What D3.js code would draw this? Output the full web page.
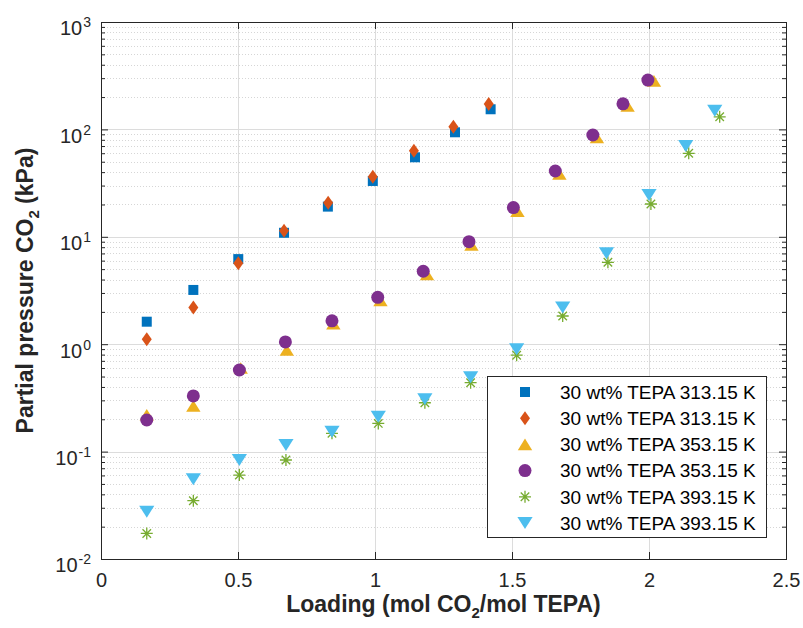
<!DOCTYPE html>
<meta charset="utf-8" />
<title>CO2 partial pressure vs loading</title>
<style>
  body { margin: 0; background: #fff; }
  svg { display: block; font-family: "Liberation Sans", Arial, sans-serif; }
  .grid-major { stroke: #dcdcdc; stroke-width: 1px; }
  .grid-minor { stroke: #d6d6d6; stroke-width: 1px; stroke-dasharray: 1 2; }
  .axis-line { stroke: #262626; stroke-width: 1px; fill: none; }
  .tick-label { fill: #262626; font-size: 20px; }
  .axis-title { fill: #262626; font-size: 23px; font-weight: bold; }
  .legend-text { fill: #000; font-size: 19px; }
</style>
<svg width="803" height="628"></svg>
<script src="https://d3js.org/d3.v7.min.js"></script>
<script>
const width = 803, height = 628;
const margin = { left: 101, right: 17, top: 22, bottom: 69 };

// data
const load313sq = [0.167, 0.337, 0.501, 0.668, 0.828, 0.992, 1.146, 1.292, 1.422];
const p313sq = [1.62, 3.2, 6.2, 10.9, 19.1, 33.1, 55, 94, 154];
const load313di = [0.167, 0.337, 0.501, 0.668, 0.829, 0.992, 1.142, 1.286, 1.415];
const p313di = [1.11, 2.2, 5.67, 11.4, 20.8, 36.3, 63.3, 106, 172];
const load353tr = [0.167, 0.337, 0.51, 0.678, 0.848, 1.02, 1.19, 1.352, 1.52, 1.673, 1.81, 1.922, 2.018];
const p353tr = [0.22, 0.266, 0.6, 0.883, 1.55, 2.55, 4.45, 8.4, 17.3, 38.5, 84, 165, 283];
const load353ci = [0.167, 0.337, 0.505, 0.673, 0.843, 1.01, 1.176, 1.343, 1.505, 1.658, 1.795, 1.905, 1.996];
const p353ci = [0.197, 0.33, 0.575, 1.05, 1.65, 2.73, 4.78, 9.0, 18.7, 41, 88.7, 173, 288];
const load393as = [0.167, 0.337, 0.505, 0.675, 0.843, 1.012, 1.182, 1.349, 1.517, 1.685, 1.85, 2.007, 2.145, 2.258];
const p393as = [0.0173, 0.0349, 0.0605, 0.0835, 0.148, 0.183, 0.285, 0.438, 0.79, 1.83, 5.79, 20.2, 59.9, 131];
const load393tv = [0.167, 0.337, 0.505, 0.675, 0.843, 1.012, 1.182, 1.349, 1.517, 1.685, 1.845, 2.0, 2.134, 2.24];
const p393tv = [0.0276, 0.0552, 0.0835, 0.115, 0.153, 0.211, 0.307, 0.492, 0.896, 2.2, 7.02, 24.5, 70, 149];

const seriesNames = [
  "30 wt% TEPA 313.15 K", "30 wt% TEPA 313.15 K",
  "30 wt% TEPA 353.15 K", "30 wt% TEPA 353.15 K",
  "30 wt% TEPA 393.15 K", "30 wt% TEPA 393.15 K"
];
const seriesColors = ["#0072BD", "#D95319", "#EDB120", "#7E2F8E", "#77AC30", "#4DBEEE"];
const seriesMarkers = ["square", "diamond", "triangle", "circle", "asterisk", "triangledown"];
const xTicks = [0, 0.5, 1, 1.5, 2, 2.5];
const yTicks = [1e-2, 1e-1, 1, 1e1, 1e2, 1e3];

const series = [
  [load313sq, p313sq], [load313di, p313di], [load353tr, p353tr],
  [load353ci, p353ci], [load393as, p393as], [load393tv, p393tv]
].map((s, i) => ({
  name: seriesNames[i], color: seriesColors[i], marker: seriesMarkers[i],
  points: s[0].map((x, j) => ({ x: x, y: s[1][j] }))
}));

const svg = d3.select("svg");
const x = d3.scaleLinear().domain([0, 2.5]).range([margin.left, width - margin.right]);
const y = d3.scaleLog().domain([1e-2, 1e3]).range([height - margin.bottom, margin.top]);
const x0 = x.range()[0], x1 = x.range()[1], y0 = y.range()[0], y1 = y.range()[1];

// grid
const minorY = [];
for (let e = -2; e < 3; e++) for (let k = 2; k <= 9; k++) minorY.push(k * Math.pow(10, e));

svg.append("g").selectAll("line").data(minorY).enter().append("line")
  .attr("class", "grid-minor")
  .attr("x1", x0).attr("x2", x1)
  .attr("y1", d => Math.round(y(d)) + 0.5).attr("y2", d => Math.round(y(d)) + 0.5);
svg.append("g").selectAll("line").data(yTicks.slice(1, -1)).enter().append("line")
  .attr("class", "grid-major")
  .attr("x1", x0).attr("x2", x1)
  .attr("y1", d => Math.round(y(d)) + 0.5).attr("y2", d => Math.round(y(d)) + 0.5);
svg.append("g").selectAll("line").data(xTicks.slice(1, -1)).enter().append("line")
  .attr("class", "grid-major")
  .attr("y1", y0).attr("y2", y1)
  .attr("x1", d => Math.round(x(d)) + 0.5).attr("x2", d => Math.round(x(d)) + 0.5);

// axes with inward ticks
const xAxisB = d3.axisBottom(x).tickValues(xTicks).tickSizeInner(-7).tickSizeOuter(0).tickPadding(14)
  .tickFormat(d3.format("~g"));
const gxb = svg.append("g").attr("transform", `translate(0,${y0})`).call(xAxisB);
svg.append("g").attr("transform", `translate(0,${y1})`)
  .call(d3.axisTop(x).tickValues(xTicks).tickSizeInner(-7).tickSizeOuter(0).tickFormat(""));

const yAxisL = d3.axisLeft(y).tickValues(yTicks).tickSizeInner(-7).tickSizeOuter(0).tickPadding(10)
  .tickFormat(d => "10");
const gyl = svg.append("g").attr("transform", `translate(${x0},0)`).call(yAxisL);
svg.append("g").attr("transform", `translate(${x1},0)`)
  .call(d3.axisRight(y).tickValues(yTicks).tickSizeInner(-7).tickSizeOuter(0).tickFormat(""));
// minor ticks
svg.append("g").attr("transform", `translate(${x0},0)`)
  .call(d3.axisLeft(y).tickValues(minorY).tickSizeInner(-4).tickSizeOuter(0).tickFormat(""));
svg.append("g").attr("transform", `translate(${x1},0)`)
  .call(d3.axisRight(y).tickValues(minorY).tickSizeInner(-4).tickSizeOuter(0).tickFormat(""));

svg.selectAll(".domain").remove();
svg.selectAll(".tick line").attr("stroke", "#262626");
svg.selectAll(".tick text").attr("class", "tick-label").attr("font-family", null).attr("font-size", null);

gxb.selectAll(".tick text").attr("dy", "0.71em");
gyl.selectAll(".tick text").attr("dy", "0.64em")
  .append("tspan").attr("dy", "-8").attr("dx", "1").attr("font-size", "14px")
  .text(d => Math.round(Math.log10(d)));

svg.append("rect").attr("class", "axis-line")
  .attr("x", x0 + 0.5).attr("y", y1 + 0.5)
  .attr("width", x1 - x0).attr("height", y0 - y1);

// markers
function markerPath(type, s) {
  const p = d3.path();
  if (type === "square") { p.rect(-s / 2, -s / 2, s, s); }
  else if (type === "diamond") {
    const w = s * 0.5, h = s * 0.7;
    p.moveTo(0, -h); p.lineTo(w, 0); p.lineTo(0, h); p.lineTo(-w, 0); p.closePath();
  } else if (type === "triangle") {
    const w = s * 0.72, h = s * 0.58;
    p.moveTo(0, -h); p.lineTo(w, h); p.lineTo(-w, h); p.closePath();
  } else if (type === "triangledown") {
    const w = s * 0.76, h = s * 0.6;
    p.moveTo(-w, -h); p.lineTo(w, -h); p.lineTo(0, h); p.closePath();
  } else if (type === "circle") {
    p.arc(0, 0, s * 0.65, 0, 2 * Math.PI);
  } else if (type === "asterisk") {
    const r = s * 0.6, q = r * Math.SQRT1_2;
    p.moveTo(-r, 0); p.lineTo(r, 0);
    p.moveTo(0, -r); p.lineTo(0, r);
    p.moveTo(-q, -q); p.lineTo(q, q);
    p.moveTo(-q, q); p.lineTo(q, -q);
  }
  return p.toString();
}
function drawMarker(sel, d) {
  sel.append("path")
    .attr("d", markerPath(d.marker, 10))
    .attr("fill", d.marker === "asterisk" ? "none" : d.color)
    .attr("stroke", d.color)
    .attr("stroke-width", d.marker === "asterisk" ? 1.3 : 0);
}

const plotG = svg.append("g");
series.forEach(s => {
  plotG.append("g").selectAll("g").data(s.points).enter().append("g")
    .attr("transform", d => `translate(${x(d.x)},${y(d.y)})`)
    .each(function () { drawMarker(d3.select(this), s); });
});

// legend
const lg = svg.append("g").attr("transform", "translate(487,376)");
lg.append("rect").attr("x", 0.5).attr("y", 0.5).attr("width", 279).attr("height", 161)
  .attr("fill", "#fff").attr("stroke", "#262626").attr("stroke-width", 1);
series.forEach((s, i) => {
  const row = lg.append("g").attr("transform", `translate(0,${16 + i * 26.2})`);
  row.append("g").attr("transform", "translate(38,0)").call(g => drawMarker(g, s));
  row.append("text").attr("class", "legend-text").attr("x", 73).attr("dy", "0.36em").text(s.name);
});

// axis titles
const xt = svg.append("text").attr("class", "axis-title")
  .attr("x", (x0 + x1) / 2).attr("y", 612).attr("text-anchor", "middle");
xt.append("tspan").text("Loading (mol CO");
xt.append("tspan").attr("font-size", "15px").attr("dy", "6").text("2");
xt.append("tspan").attr("dy", "-6").text("/mol TEPA)");

const yt = svg.append("text").attr("class", "axis-title")
  .attr("transform", `translate(33,${(y0 + y1) / 2}) rotate(-90)`).attr("text-anchor", "middle");
yt.append("tspan").text("Partial pressure CO");
yt.append("tspan").attr("font-size", "15px").attr("dy", "6").text("2");
yt.append("tspan").attr("dy", "-6").text(" (kPa)");
</script>
